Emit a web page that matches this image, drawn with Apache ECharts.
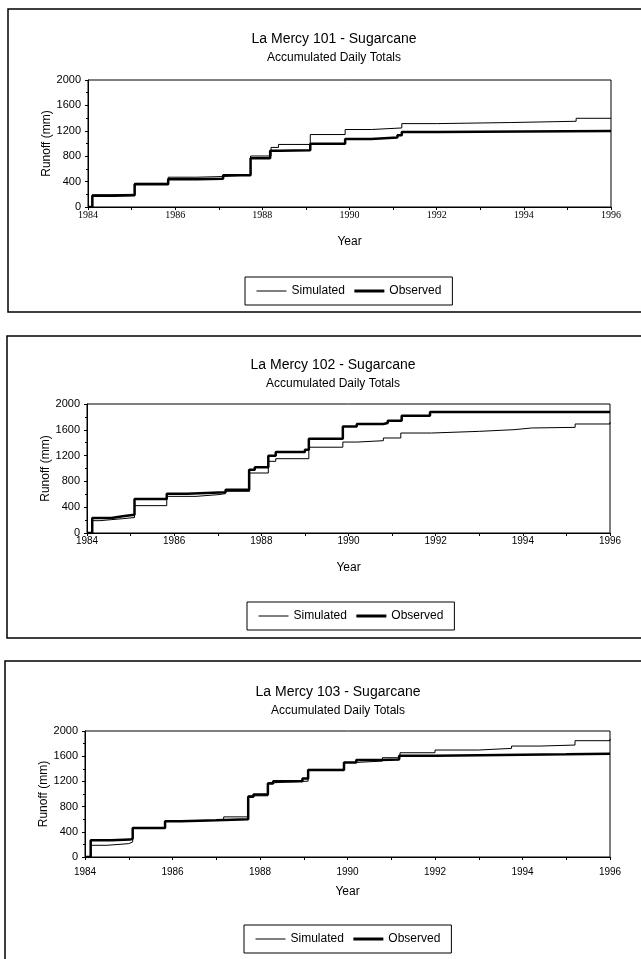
<!DOCTYPE html>
<html>
<head>
<meta charset="utf-8">
<script src="https://cdn.jsdelivr.net/npm/echarts@6/dist/echarts.min.js"></script>
<style>
html,body{margin:0;padding:0;background:#fff;}
#c{width:641px;height:959px;}
</style>
</head>
<body>
<div id="c"></div>
<script>
// ---- data (step change points: year, accumulated runoff mm) ----
const xTickLabels = ['1984','1986','1988','1990','1992','1994','1996'];
const yTickLabels = ['0','400','800','1200','1600','2000'];
const legendNames = ['Simulated','Observed'];
const chartTitles = ['La Mercy 101 - Sugarcane','La Mercy 102 - Sugarcane','La Mercy 103 - Sugarcane'];
const chartSubtitle = 'Accumulated Daily Totals';

const sim101Year   = [1984.0,1984.1,1984.5,1985.07,1985.84,1986.5,1987.1,1987.73,1988.2,1988.37,1989.1,1989.9,1990.5,1991.2,1992.0,1993.7,1995.2,1996.0];
const sim101Runoff = [0,193,200,375,469,480,505,803,938,985,1141,1220,1245,1313,1330,1350,1397,1400];
const obs101Year   = [1984.0,1984.1,1984.6,1985.07,1985.84,1986.5,1987.1,1987.73,1988.18,1988.4,1989.1,1989.9,1990.5,1991.1,1991.2,1992.0,1996.0];
const obs101Runoff = [0,177,185,360,438,445,500,766,886,895,995,1070,1095,1131,1183,1195,1199];

const sim102Year   = [1984.0,1984.12,1984.3,1984.56,1984.82,1985.09,1985.83,1986.5,1987.0,1987.18,1987.73,1988.16,1988.33,1989.09,1989.87,1990.2,1990.8,1991.2,1991.9,1993.0,1993.8,1994.2,1995.2,1996.0];
const sim102Runoff = [0,191,207,222,240,424,568,594,610,646,930,1111,1152,1330,1410,1431,1473,1550,1576,1602,1628,1638,1690,1718];
const obs102Year   = [1984.0,1984.12,1984.56,1984.82,1985.09,1985.83,1986.3,1987.18,1987.72,1987.85,1988.16,1988.33,1989.0,1989.09,1989.87,1990.19,1990.8,1990.9,1991.22,1991.87,1996.0];
const obs102Runoff = [0,233,258,284,527,610,630,672,982,1018,1199,1256,1290,1462,1650,1690,1705,1742,1819,1876,1886];

const sim103Year   = [1984.0,1984.13,1984.5,1985.0,1985.09,1985.83,1986.2,1987.17,1987.73,1988.18,1988.3,1989.1,1989.92,1990.2,1990.8,1991.2,1992.0,1993.0,1993.75,1994.4,1995.2,1996.0];
const sim103Runoff = [0,186,212,239,462,568,584,637,971,1178,1204,1390,1501,1523,1576,1655,1698,1724,1761,1777,1846,1875];
const obs103Year   = [1984.0,1984.13,1984.6,1985.03,1985.09,1985.83,1986.2,1987.0,1987.73,1987.85,1988.18,1988.3,1988.97,1989.1,1989.92,1990.2,1990.75,1991.18,1992.0,1995.0,1996.0];
const obs103Runoff = [0,265,276,292,462,568,584,600,955,992,1167,1204,1247,1379,1501,1538,1549,1607,1629,1640,1650];

const simSets = [[sim101Year,sim101Runoff],[sim102Year,sim102Runoff],[sim103Year,sim103Runoff]];
const obsSets = [[obs101Year,obs101Runoff],[obs102Year,obs102Runoff],[obs103Year,obs103Runoff]];

// ---- layout ----
const SANS = '"Liberation Sans", Arial, sans-serif';
const SERIF = '"Liberation Serif", "Times New Roman", serif';
const layout = [
  {grid:{left:88, top:80, width:523, height:127}, titleX:334, titleTop:32, legendLeft:245, legendTop:277, xFont:SERIF, xMargin:3, panel:{x:8,y:9,h:303}},
  {grid:{left:87, top:404, width:523, height:129}, titleX:333, titleTop:358, legendLeft:247, legendTop:602, xFont:SANS, xMargin:3, panel:{x:7,y:336,h:302}},
  {grid:{left:85, top:731, width:525, height:126}, titleX:338, titleTop:685, legendLeft:244, legendTop:925, xFont:SANS, xMargin:10, panel:{x:5,y:661,h:320}}
];

const zip = (a,b) => a.map((v,i)=>[v,b[i]]);

const option = {
  animation:false,
  backgroundColor:'#fff',
  textStyle:{fontFamily:SANS, color:'#000'},
  graphic: layout.map(l => ({
    type:'rect', z:-1, silent:true,
    shape:{x:l.panel.x, y:l.panel.y, width:650, height:l.panel.h},
    style:{fill:'none', stroke:'#000', lineWidth:1.5}
  })),
  title: layout.map((l,i)=>({
    text:chartTitles[i], subtext:chartSubtitle,
    left:l.titleX, top:l.titleTop, textAlign:'center', padding:0, itemGap:6,
    textStyle:{fontSize:14, fontWeight:'normal', color:'#000', fontFamily:SANS},
    subtextStyle:{fontSize:12, color:'#000', fontFamily:SANS}
  })),
  legend: layout.map((l,i)=>({
    left:l.legendLeft, top:l.legendTop, orient:'horizontal',
    borderColor:'#000', borderWidth:1, padding:[8,11,8,11],
    itemWidth:30, itemHeight:10, itemGap:8,
    itemStyle:{opacity:0},
    textStyle:{fontSize:12, color:'#000', fontFamily:SANS},
    data:[
      {name:legendNames[0], itemStyle:{opacity:0}, lineStyle:{width:1, color:'#000'}},
      {name:legendNames[1], itemStyle:{opacity:0}, lineStyle:{width:3, color:'#000'}}
    ]
  })),
  grid: layout.map(l=>Object.assign({show:true, borderColor:'#000', borderWidth:1, backgroundColor:'transparent'}, l.grid)),
  xAxis: layout.map((l,i)=>({
    gridIndex:i, type:'value', min:1984, max:1996, interval:1,
    axisLine:{lineStyle:{color:'#000', width:1}},
    axisTick:{show:true, length:3, lineStyle:{color:'#000'}},
    axisLabel:{color:'#000', fontSize:10, margin:l.xMargin, fontFamily:l.xFont,
      formatter: v => xTickLabels.indexOf(String(v))>=0 ? String(v) : ''},
    splitLine:{show:false},
    name:'Year', nameLocation:'middle', nameGap:29, nameMoveOverlap:false,
    nameTextStyle:{fontSize:12, color:'#000', fontFamily:SANS}
  })),
  yAxis: layout.map((l,i)=>({
    gridIndex:i, type:'value', min:0, max:2000, interval:400,
    axisLine:{show:true, lineStyle:{color:'#000', width:1}},
    axisTick:{show:true, length:3, lineStyle:{color:'#000'}},
    minorTick:{show:true, splitNumber:2, length:2, lineStyle:{color:'#000'}},
    axisLabel:{color:'#000', fontSize:11, margin:7, fontFamily:SANS,
      formatter: v => yTickLabels.indexOf(String(v))>=0 ? String(v) : ''},
    splitLine:{show:false},
    name:'Runoff (mm)', nameLocation:'middle', nameGap:35, nameMoveOverlap:false,
    nameTextStyle:{fontSize:12, color:'#000', fontFamily:SANS}
  })),
  series: []
};

for (let i=0;i<3;i++){
  option.series.push({
    name:legendNames[0], type:'line', xAxisIndex:i, yAxisIndex:i, step:'end',
    symbol:'none', data:zip(simSets[i][0], simSets[i][1]),
    lineStyle:{color:'#000', width:1}, itemStyle:{color:'#000'}, z:3
  });
  option.series.push({
    name:legendNames[1], type:'line', xAxisIndex:i, yAxisIndex:i, step:'end',
    symbol:'none', data:zip(obsSets[i][0], obsSets[i][1]),
    lineStyle:{color:'#000', width:2.5}, itemStyle:{color:'#000'}, z:2
  });
}

const chart = echarts.init(document.getElementById('c'), null, {renderer:'canvas'});
chart.setOption(option);
</script>
</body>
</html>
